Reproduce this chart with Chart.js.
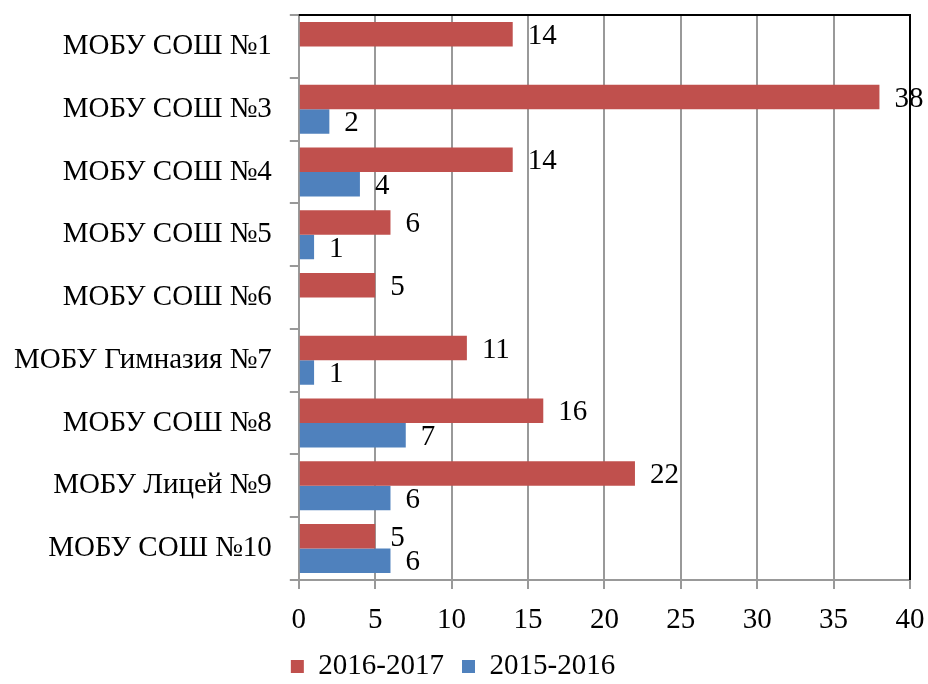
<!DOCTYPE html>
<html>
<head>
<meta charset="utf-8">
<script src="https://cdn.jsdelivr.net/npm/chart.js@4"></script>
<style>
  html, body { margin: 0; padding: 0; background: #fff; }
  #wrap { width: 928px; height: 684px; }
</style>
</head>
<body>
<div id="wrap"><canvas id="chart"></canvas></div>
<script>
const schools = ["МОБУ СОШ №1", "МОБУ СОШ №3", "МОБУ СОШ №4", "МОБУ СОШ №5", "МОБУ СОШ №6",
  "МОБУ Гимназия №7", "МОБУ СОШ №8", "МОБУ Лицей №9", "МОБУ СОШ №10"];
const values2017 = [14, 38, 14, 6, 5, 11, 16, 22, 5];
const values2016 = [null, 2, 4, 1, null, 1, 7, 6, 6];
const seriesNames = ["2016-2017", "2015-2016"];

const FONT = "'Liberation Serif', 'Times New Roman', serif";

// подписи значений справа от столбиков
const valueLabels = {
  id: "valueLabels",
  afterDatasetsDraw(chart) {
    const ctx = chart.ctx;
    ctx.save();
    ctx.font = "29px " + FONT;
    ctx.fillStyle = "#000";
    ctx.textAlign = "left";
    ctx.textBaseline = "middle";
    chart.data.datasets.forEach((ds, i) => {
      chart.getDatasetMeta(i).data.forEach((bar, j) => {
        const v = ds.data[j];
        if (v == null) return;
        ctx.fillText(String(v), bar.x + 15, bar.y + 2);
      });
    });
    ctx.restore();
  }
};

// чёрная рамка сверху и справа
const frame = {
  id: "frame",
  afterDraw(chart) {
    const a = chart.chartArea, ctx = chart.ctx;
    ctx.save();
    ctx.strokeStyle = "#000";
    ctx.lineWidth = 2;
    ctx.beginPath();
    ctx.moveTo(a.left, a.top);
    ctx.lineTo(a.right, a.top);
    ctx.lineTo(a.right, a.bottom);
    ctx.stroke();
    ctx.restore();
  }
};

new Chart(document.getElementById("chart"), {
  type: "bar",
  data: {
    labels: schools,
    datasets: [
      { label: seriesNames[0], data: values2017, backgroundColor: "#C0504D" },
      { label: seriesNames[1], data: values2016, backgroundColor: "#4F81BD" },
    ],
  },
  options: {
    indexAxis: "y",
    responsive: true,
    maintainAspectRatio: false,
    animation: false,
    layout: { padding: { top: 15, right: 18, left: -4, bottom: -7 } },
    datasets: { bar: { barPercentage: 1, categoryPercentage: 0.78 } },
    scales: {
      x: {
        min: 0, max: 40,
        ticks: { stepSize: 5, color: "#000", font: { family: FONT, size: 29, lineHeight: 0.76 }, padding: 20 },
        grid: { color: "#999", lineWidth: 2, tickLength: 9 },
        border: { color: "#999", width: 2 },
        afterFit(scale) { scale.paddingLeft = 0; scale.paddingRight = 0; scale.height -= 17; },
      },
      y: {
        ticks: { color: "#000", font: { family: FONT, size: 29, lineHeight: 0.2 }, padding: 18 },
        grid: { offset: true, drawOnChartArea: false, color: "#999", lineWidth: 2, tickLength: 9 },
        border: { color: "#999", width: 2 },
        afterFit(scale) { scale.paddingTop = 0; scale.paddingBottom = 0; },
      },
    },
    plugins: {
      legend: {
        position: "bottom",
        labels: { color: "#000", font: { family: FONT, size: 29 }, boxWidth: 13, boxHeight: 13, padding: 18 },
      },
      tooltip: { enabled: false },
    },
  },
  plugins: [valueLabels, frame],
});
</script>
</body>
</html>
